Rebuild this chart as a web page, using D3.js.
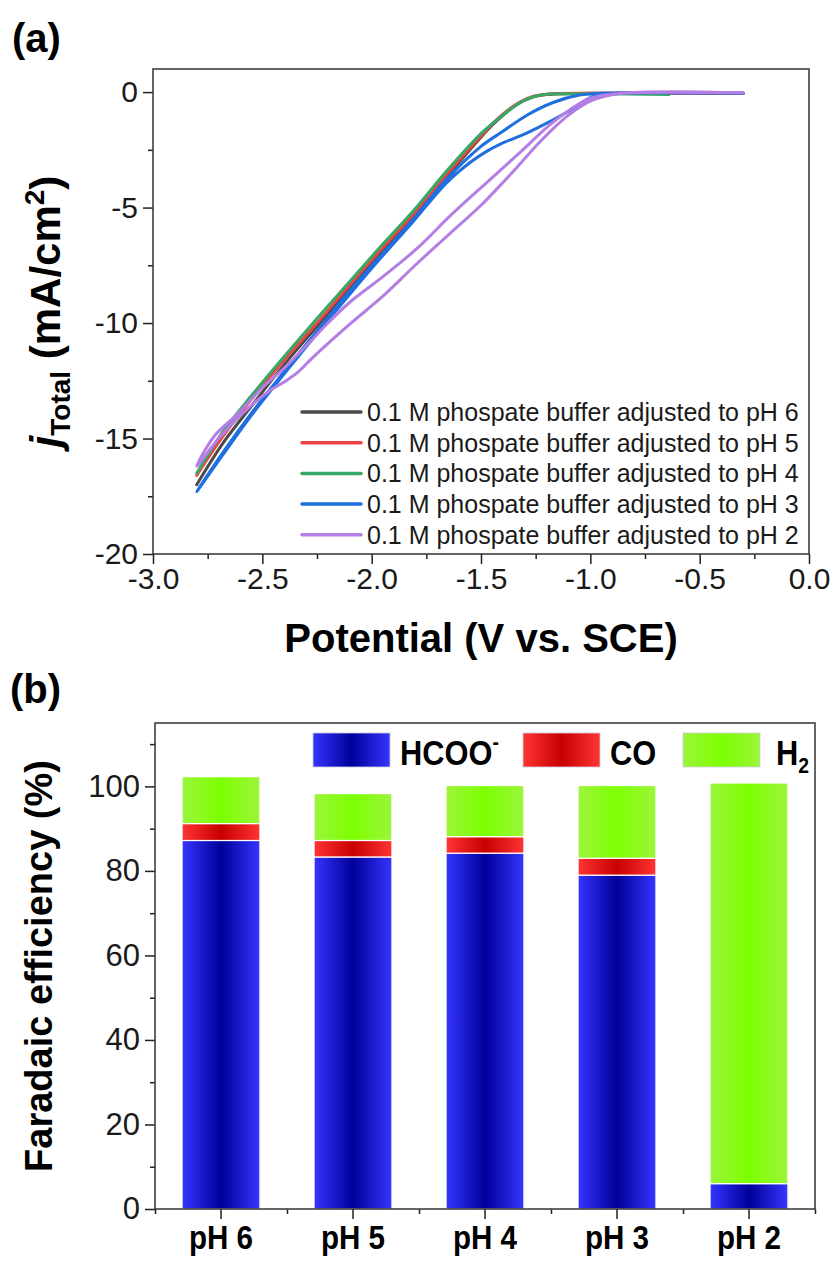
<!DOCTYPE html>
<html>
<head>
<meta charset="utf-8">
<script src="https://cdn.jsdelivr.net/npm/d3@7"></script>
<style>
body { margin: 0; background: #fff; }
svg { display: block; font-family: "Liberation Sans", Arial, sans-serif; }
</style>
</head>
<body>
<div id="visContainer"></div>
<script>
'use strict';

// ---- panel (a): LSV curves, [potential (V vs. SCE), j (mA/cm2)] ----
var ph6Curve = [[-0.3,-0.05],[-1.0,-0.05],[-1.2,-0.1],[-1.26,-0.2],[-1.32,-0.45],[-1.38,-0.85],[-1.44,-1.35],[-1.5,-1.95],
  [-1.66,-3.7],[-1.81,-5.4],[-1.96,-7.0],[-2.1,-8.5],[-2.25,-10.15],[-2.4,-11.8],[-2.55,-13.6],[-2.68,-15.2],[-2.8,-17.0]];
var ph5Curve = [[-0.3,-0.05],[-1.0,-0.05],[-1.2,-0.09],[-1.26,-0.18],[-1.32,-0.42],[-1.38,-0.8],[-1.44,-1.3],[-1.5,-1.9],
  [-1.66,-3.6],[-1.81,-5.3],[-1.96,-6.85],[-2.1,-8.35],[-2.25,-10.0],[-2.4,-11.6],[-2.55,-13.3],[-2.68,-14.9],[-2.8,-16.6]];
var ph4Curve = [[-0.64,-0.1],[-1.0,-0.08],[-1.18,-0.08],[-1.24,-0.15],[-1.3,-0.35],[-1.36,-0.7],[-1.42,-1.15],[-1.5,-1.8],
  [-1.66,-3.45],[-1.81,-5.15],[-1.96,-6.7],[-2.1,-8.2],[-2.25,-9.8],[-2.4,-11.45],[-2.55,-13.15],[-2.68,-14.7],[-2.8,-16.5]];
var ph3Curve = [[-0.3,-0.05],[-0.95,-0.05],[-1.05,-0.13],[-1.17,-0.45],[-1.29,-1.0],[-1.4,-1.7],[-1.5,-2.35],
  [-1.66,-3.8],[-1.81,-5.5],[-1.96,-7.1],[-2.1,-8.6],[-2.25,-10.35],[-2.4,-12.1],[-2.55,-13.9],[-2.68,-15.6],
  [-2.8,-17.3],[-2.68,-15.7],[-2.55,-14.0],[-2.4,-12.2],[-2.25,-10.45],[-2.1,-8.75],[-1.96,-7.2],[-1.81,-5.6],
  [-1.66,-3.95],[-1.55,-3.05],[-1.48,-2.6],[-1.4,-2.2],[-1.32,-1.9],[-1.244,-1.56],[-1.107,-0.87],[-0.99,-0.2],
  [-0.9,-0.06],[-0.3,-0.05]];
var ph2Curve = [[-0.3,-0.03],[-0.8,-0.03],[-0.95,-0.15],[-1.02,-0.35],[-1.17,-1.3],[-1.32,-2.6],[-1.46,-3.8],
  [-1.64,-5.35],[-1.79,-6.75],[-1.95,-8.0],[-2.1,-9.1],[-2.2,-10.0],[-2.28,-10.8],[-2.4,-11.95],[-2.5,-12.8],
  [-2.62,-14.0],[-2.72,-14.9],[-2.8,-16.2],[-2.7,-15.0],[-2.6,-14.0],[-2.47,-12.95],[-2.4,-12.55],[-2.34,-12.15],
  [-2.27,-11.5],[-2.1,-10.05],[-1.95,-8.85],[-1.79,-7.4],[-1.61,-5.85],[-1.5,-4.9],[-1.354,-3.45],[-1.23,-2.15],
  [-1.107,-1.05],[-0.99,-0.35],[-0.865,-0.06],[-0.3,-0.03]];
var curveLabels = [
  '0.1 M phospate buffer adjusted to pH 6',
  '0.1 M phospate buffer adjusted to pH 5',
  '0.1 M phospate buffer adjusted to pH 4',
  '0.1 M phospate buffer adjusted to pH 3',
  '0.1 M phospate buffer adjusted to pH 2'];
var curveColors = ['#4b4b4b', '#ef4343', '#37a866', '#1f6fe0', '#b57ee4'];
var xTicksA = [-3, -2.5, -2, -1.5, -1, -0.5, 0];
var yTicksA = [-20, -15, -10, -5, 0];

// ---- panel (b): faradaic efficiency (%) ----
var categories = ['pH 6', 'pH 5', 'pH 4', 'pH 3', 'pH 2'];
var feHCOO = [87.2, 83.3, 84.2, 79.0, 6.0];
var feCO = [4.0, 3.9, 3.9, 4.0, 0];
var feH2 = [11.1, 11.1, 12.1, 17.2, 94.8];
var yTicksB = [0, 20, 40, 60, 80, 100];

var width = 834, height = 1263;
var svg = d3.select('#visContainer').append('svg')
  .attr('width', width).attr('height', height);

var defs = svg.append('defs');
function addGradient(id, edge, mid) {
  var g = defs.append('linearGradient').attr('id', id)
    .attr('x1', '0%').attr('x2', '100%').attr('y1', '0%').attr('y2', '0%');
  g.append('stop').attr('offset', '0%').attr('stop-color', edge);
  g.append('stop').attr('offset', '50%').attr('stop-color', mid);
  g.append('stop').attr('offset', '100%').attr('stop-color', edge);
}
addGradient('gBlue', '#3535ff', '#00009a');
addGradient('gRed', '#ff3434', '#c80000');
addGradient('gGreen', '#9cf53c', '#7cff00');

//------------------------------------------------ panel (a)
var padA = { left: 153, right: 809, top: 69, bottom: 554 };
var xA = d3.scaleLinear().domain([-3, 0]).range([padA.left, padA.right]);
var yA = d3.scaleLinear().domain([-20, 1]).range([padA.bottom, padA.top]);

svg.append('text').attr('x', 12).attr('y', 52)
  .attr('font-size', 40).attr('font-weight', 'bold').text('(a)');

// minor ticks
svg.append('g').attr('transform', 'translate(0,' + padA.bottom + ')')
  .call(d3.axisBottom(xA).tickValues([-2.75, -2.25, -1.75, -1.25, -0.75, -0.25]).tickSize(5).tickFormat(''))
  .call(function (g) { g.select('.domain').remove(); g.selectAll('line').attr('stroke', '#222').attr('stroke-width', 1.5); });
svg.append('g').attr('transform', 'translate(' + padA.left + ',0)')
  .call(d3.axisLeft(yA).tickValues([-17.5, -12.5, -7.5, -2.5]).tickSize(5).tickFormat(''))
  .call(function (g) { g.select('.domain').remove(); g.selectAll('line').attr('stroke', '#222').attr('stroke-width', 1.5); });

var xAxisA = svg.append('g').attr('transform', 'translate(0,' + padA.bottom + ')')
  .call(d3.axisBottom(xA).tickValues(xTicksA).tickSize(10).tickSizeOuter(0).tickPadding(4)
    .tickFormat(function (d) { return d.toFixed(1); }));
var yAxisA = svg.append('g').attr('transform', 'translate(' + padA.left + ',0)')
  .call(d3.axisLeft(yA).tickValues(yTicksA).tickSize(10).tickSizeOuter(0).tickPadding(5)
    .tickFormat(function (d) { return String(d); }));
[xAxisA, yAxisA].forEach(function (ax) {
  ax.selectAll('text').attr('font-size', 30).attr('fill', '#1a1a1a').attr('font-family', '"Liberation Sans", Arial, sans-serif');
  ax.selectAll('line').attr('stroke', '#222').attr('stroke-width', 1.5);
  ax.select('.domain').remove();
});

var line = d3.line().curve(d3.curveCatmullRom.alpha(0.5))
  .x(function (d) { return xA(d[0]); }).y(function (d) { return yA(d[1]); });
var curves = [ph6Curve, ph5Curve, ph4Curve, ph3Curve, ph2Curve];
curves.forEach(function (c, i) {
  svg.append('path').attr('d', line(c)).attr('fill', 'none')
    .attr('stroke', curveColors[i]).attr('stroke-width', 3)
    .attr('stroke-linejoin', 'round').attr('stroke-linecap', 'round');
});

svg.append('rect').attr('x', padA.left).attr('y', padA.top)
  .attr('width', padA.right - padA.left).attr('height', padA.bottom - padA.top)
  .attr('fill', 'none').attr('stroke', '#333').attr('stroke-width', 1.5);

// legend (a)
var legA = svg.append('g');
curveLabels.forEach(function (lab, i) {
  var ly = 412 + i * 30.7;
  legA.append('line').attr('x1', 302).attr('x2', 361).attr('y1', ly).attr('y2', ly)
    .attr('stroke', curveColors[i]).attr('stroke-width', 3.5).attr('stroke-linecap', 'round');
  legA.append('text').attr('x', 367).attr('y', ly + 9).attr('font-size', 25)
    .attr('fill', '#1a1a1a').text(lab);
});

// axis titles (a)
svg.append('text').attr('x', (padA.left + padA.right) / 2).attr('y', 652)
  .attr('text-anchor', 'middle').attr('font-size', 40).attr('font-weight', 'bold')
  .text('Potential (V vs. SCE)');
var yt = svg.append('text').attr('transform', 'translate(60,' + (padA.top + padA.bottom) / 2 + ') rotate(-90)')
  .attr('text-anchor', 'middle').attr('font-size', 42).attr('font-weight', 'bold');
yt.append('tspan').attr('font-style', 'italic').text('j');
yt.append('tspan').attr('font-size', 28).attr('dy', 10).text('Total');
yt.append('tspan').attr('dy', -10).text(' (mA/cm');
yt.append('tspan').attr('font-size', 28).attr('dy', -16).text('2');
yt.append('tspan').attr('dy', 16).text(')');

//------------------------------------------------ panel (b)
var padB = { left: 155, right: 815, top: 723, bottom: 1209 };
var xB = d3.scaleBand().domain(categories).range([padB.left, padB.right])
  .paddingInner(0.41).paddingOuter(0.205);
var yB = d3.scaleLinear().domain([0, 115]).range([padB.bottom, padB.top]);

svg.append('text').attr('x', 10).attr('y', 703)
  .attr('font-size', 40).attr('font-weight', 'bold').text('(b)');

var table = categories.map(function (c, i) {
  return { cat: c, HCOO: feHCOO[i], CO: feCO[i], H2: feH2[i] };
});
var keys = ['HCOO', 'CO', 'H2'];
var fills = { HCOO: 'url(#gBlue)', CO: 'url(#gRed)', H2: 'url(#gGreen)' };
var stacked = d3.stack().keys(keys)(table);

stacked.forEach(function (layer) {
  svg.append('g').selectAll('rect').data(layer.filter(function (d) { return d[1] - d[0] > 0; }))
    .enter().append('rect')
    .attr('x', function (d) { return xB(d.data.cat); })
    .attr('width', xB.bandwidth())
    .attr('y', function (d) { return yB(d[1]); })
    .attr('height', function (d) { return yB(d[0]) - yB(d[1]); })
    .attr('fill', fills[layer.key])
    .attr('stroke', '#fff').attr('stroke-width', 1.2);
});

// ticks (b)
var bandEdges = categories.map(function (c) { return xB(c) - xB.step() * xB.paddingInner() / 2; });
bandEdges.push(padB.right);
svg.append('g').attr('transform', 'translate(0,' + padB.bottom + ')')
  .call(d3.axisBottom(d3.scaleIdentity()).tickValues(bandEdges).tickSize(5).tickFormat(''))
  .call(function (g) { g.select('.domain').remove(); g.selectAll('line').attr('stroke', '#222').attr('stroke-width', 1.5); });
svg.append('g').attr('transform', 'translate(' + padB.left + ',0)')
  .call(d3.axisLeft(yB).tickValues([10, 30, 50, 70, 90, 110]).tickSize(5).tickFormat(''))
  .call(function (g) { g.select('.domain').remove(); g.selectAll('line').attr('stroke', '#222').attr('stroke-width', 1.5); });

var xAxisB = svg.append('g').attr('transform', 'translate(0,' + padB.bottom + ')')
  .call(d3.axisBottom(xB).tickSize(10).tickSizeOuter(0).tickPadding(6));
xAxisB.selectAll('text').attr('font-size', 34).attr('font-weight', 'bold').attr('fill', '#000')
  .attr('font-family', '"Liberation Sans", Arial, sans-serif')
  .attr('transform', 'scale(0.87,1)');
var yAxisB = svg.append('g').attr('transform', 'translate(' + padB.left + ',0)')
  .call(d3.axisLeft(yB).tickValues(yTicksB).tickSize(10).tickSizeOuter(0).tickPadding(5));
yAxisB.selectAll('text').attr('font-size', 31).attr('fill', '#1a1a1a')
  .attr('font-family', '"Liberation Sans", Arial, sans-serif');
[xAxisB, yAxisB].forEach(function (ax) {
  ax.selectAll('line').attr('stroke', '#222').attr('stroke-width', 1.5);
  ax.select('.domain').remove();
});

svg.append('rect').attr('x', padB.left).attr('y', padB.top)
  .attr('width', padB.right - padB.left).attr('height', padB.bottom - padB.top)
  .attr('fill', 'none').attr('stroke', '#333').attr('stroke-width', 1.5);

// legend (b)
var legB = [
  { key: 'HCOO', box: 313, tx: 400 },
  { key: 'CO', box: 523, tx: 610 },
  { key: 'H2', box: 683, tx: 776 }];
legB.forEach(function (l) {
  svg.append('rect').attr('x', l.box).attr('y', 733).attr('width', 77).attr('height', 34)
    .attr('fill', fills[l.key]).attr('stroke', '#ccd').attr('stroke-width', 0.8);
  var t = svg.append('text').attr('transform', 'translate(' + l.tx + ',765) scale(0.88,1)')
    .attr('font-size', 35).attr('font-weight', 'bold').attr('fill', '#000');
  if (l.key === 'HCOO') {
    t.append('tspan').text('HCOO');
    t.append('tspan').attr('font-size', 22).attr('dy', -16).text('-');
  } else if (l.key === 'CO') {
    t.text('CO');
  } else {
    t.append('tspan').text('H');
    t.append('tspan').attr('font-size', 22).attr('dy', 8).text('2');
  }
});

svg.append('text').attr('transform', 'translate(52,' + (padB.top + padB.bottom) / 2 + ') rotate(-90)')
  .attr('text-anchor', 'middle').attr('font-size', 38).attr('font-weight', 'bold')
  .text('Faradaic efficiency (%)');
</script>
</body>
</html>
